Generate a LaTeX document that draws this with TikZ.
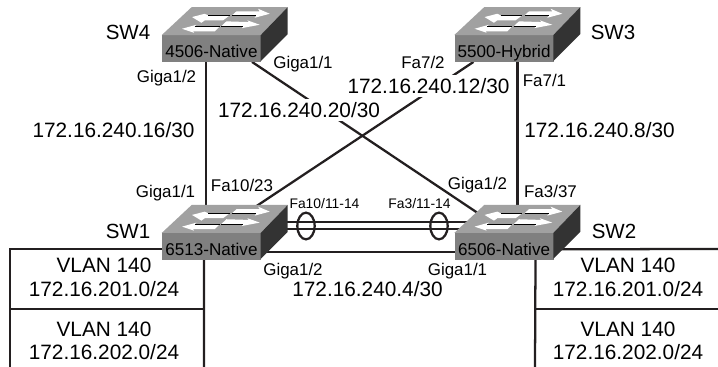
\documentclass[tikz,border=0pt]{standalone}
\usepackage{fontspec}
\setmainfont{Liberation Sans}
\usetikzlibrary{positioning,shapes.geometric,backgrounds}
\definecolor{linkgray}{HTML}{231F20}

\begin{document}
\begin{tikzpicture}[
    x=0.75pt, y=-0.75pt,
    switchfront/.style={rectangle, fill=black!50, minimum width=74.25pt, minimum height=19.75pt,
                  inner sep=0pt, align=center, text height=13pt, text depth=0pt, font=\fontsize{12.8}{14}\selectfont},
    link/.style={draw=linkgray, line width=1.7pt},
    bundle/.style={ellipse, draw=linkgray, line width=1.7pt, minimum width=13pt, minimum height=20pt, inner sep=0pt},
    swname/.style={anchor=mid, inner sep=0pt, yshift=-2pt, font=\fontsize{15.4}{18}\selectfont},
    netlabel/.style={anchor=mid, inner sep=0pt, yshift=-2.25pt, font=\fontsize{15.6}{18}\selectfont},
    netcover/.style={anchor=center, inner sep=0pt, fill=white, minimum height=16.5pt, font=\fontsize{15.6}{18}\selectfont},
    portlabel/.style={anchor=mid, inner sep=0pt, yshift=-2pt, font=\fontsize{12.7}{14}\selectfont},
    bundlelabel/.style={anchor=mid, inner sep=0pt, yshift=-1.5pt, font=\fontsize{10.4}{12}\selectfont}
]
\useasboundingbox (0,0) rectangle (718,367);

% Switch front faces
\node[switchfront] (sw4) at (211.5,48.5) {4506-Native};
\node[switchfront, right=144.75pt of sw4] (sw3) {5500-Hybrid};
\node[switchfront, below=128.25pt of sw4] (sw1) {6513-Native};
\node[switchfront, right=144.75pt of sw1] (sw2) {6506-Native};

% Free ends of the LAN lines
\coordinate (lanleft) at (10,367);
\coordinate (lanmidleft) at (10,309);
\coordinate (lanmidinner) at (204,309);
\coordinate (laninner) at (204,367);
\coordinate (lanright) at (718,249);
\coordinate (lanrightinner) at (535,367);
\coordinate (lanrightmid) at (535,309);
\coordinate (lanrightend) at (718,309);

% Connectors behind the switches
\begin{pgfonlayer}{background}
\draw[link] ([xshift=-4.1pt]sw4.south) -- ([xshift=-4.1pt]sw1.north);
\draw[link] ([xshift=10.1pt]sw3.south) -- ([xshift=10.1pt]sw2.north);
\draw[link] ([xshift=30.4pt]sw4.south) -- ([xshift=2.6pt]sw2.north);
\draw[link] ([xshift=-22.9pt]sw3.south) -- ([xshift=3.4pt]sw1.north);
\draw[link] ([yshift=18pt]sw1.center) -- ([yshift=18pt]sw2.center);
\draw[link] ([yshift=12.75pt]sw1.center) -- ([yshift=12.75pt]sw2.center);
\draw[link] ([yshift=-4.5pt]sw1.center) -- ([yshift=-4.5pt]sw2.center);
\draw[link] ([yshift=-2.25pt]sw1.center) -| (lanleft);
\draw[link] (lanmidleft) -- (lanmidinner);
\draw[link] ([xshift=-5.6pt]sw1.south) -- (laninner);
\draw[link] ([yshift=-2.25pt]sw2.center) -- (lanright);
\draw[link] ([xshift=23.6pt]sw2.south) -- (lanrightinner);
\draw[link] (lanrightmid) -- (lanrightend);
\end{pgfonlayer}

% Switch top and side faces
\foreach \sw in {sw1,sw2,sw3,sw4} {
  \begin{scope}[shift={(\sw.north west)}]
    \fill[black!37] (0,0) -- (30,-28) -- (126,-28) -- (99,0) -- cycle;
    \fill[black!80] (99,0) -- (126,-28) -- (126,-1) -- (99,26) -- cycle;
    \fill[white] (30.3,-18) -- (43,-21.3) -- (46.3,-19.7) -- (68,-19.7) -- (61.3,-14.7) -- (43,-14.7) -- (39.7,-12.3) -- cycle;
    \fill[white] (70.3,-19.7) -- (74.7,-23.7) -- (98,-23.7) -- (96.3,-26.3) -- (108,-21.3) -- (93,-17.3) -- (94.7,-19.7) -- cycle;
    \fill[white] (20.3,-6.3) -- (34.7,-10.3) -- (33,-8.7) -- (58,-8.7) -- (53,-3.7) -- (31.3,-3.7) -- (32.3,-2.3) -- cycle;
    \fill[white] (98,-10.3) -- (85.7,-14.7) -- (87,-13) -- (64.7,-13.7) -- (59.7,-9) -- (81.3,-9) -- (80.3,-7) -- cycle;
    \draw[black, line width=0.6pt] (46.3,-19.7) -- (68,-19.7) (33,-8.7) -- (58,-8.7) (70.3,-19.7) -- (94.7,-19.7) (59.7,-9) -- (81.3,-9);
  \end{scope}
}

% Bundle rings
\node[bundle] (ring1) at (306,226) {};
\node[bundle] (ring2) at (439,226) {};

% Switch names
\node[swname] (name4) at (128,33) {SW4};
\node[swname] (name3) at (613,33) {SW3};
\node[swname] (name1) at (128,232) {SW1};
\node[swname] (name2) at (614,232) {SW2};

% Link subnets
\node[netlabel] (net16) at (113.5,131) {172.16.240.16/30};
\node[netlabel] (net8) at (599.5,131) {172.16.240.8/30};
\node[netcover] (net20) at (299,110) {172.16.240.20/30};
\node[netcover] (net12) at (428.5,86) {172.16.240.12/30};
\node[netlabel] (net4) at (367.5,290) {172.16.240.4/30};

% Port labels
\node[portlabel] (p41) at (166.5,76) {Giga1/2};
\node[portlabel] (p42) at (303,62) {Giga1/1};
\node[portlabel] (p31) at (423,62) {Fa7/2};
\node[portlabel] (p32) at (544.5,80) {Fa7/1};
\node[portlabel] (p11) at (165.5,191) {Giga1/1};
\node[portlabel] (p12) at (242,185) {Fa10/23};
\node[portlabel] (p13) at (293,269) {Giga1/2};
\node[portlabel] (p21) at (477.5,183) {Giga1/2};
\node[portlabel] (p22) at (550.5,191) {Fa3/37};
\node[portlabel] (p23) at (457.5,269) {Giga1/1};
\node[bundlelabel] (b1) at (324.5,203) {Fa10/11-14};
\node[bundlelabel] (b2) at (419.5,203) {Fa3/11-14};

% VLAN boxes
\node[netlabel] (vl1) at (104,266) {VLAN 140};
\node[netlabel] (ip1) at (104,290) {172.16.201.0/24};
\node[netlabel] (vl2) at (104,330) {VLAN 140};
\node[netlabel] (ip2) at (104,353) {172.16.202.0/24};
\node[netlabel] (vl3) at (628,266) {VLAN 140};
\node[netlabel] (ip3) at (628,290) {172.16.201.0/24};
\node[netlabel] (vl4) at (628,330) {VLAN 140};
\node[netlabel] (ip4) at (628,353) {172.16.202.0/24};

\end{tikzpicture}
\end{document}
